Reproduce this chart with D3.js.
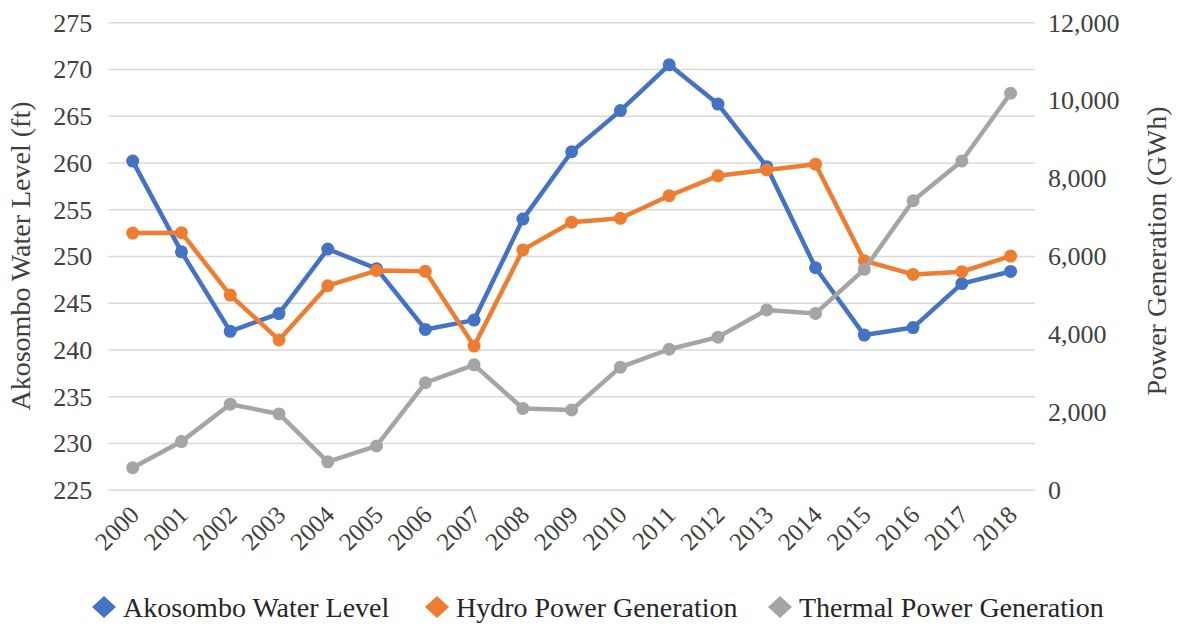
<!DOCTYPE html>
<html><head><meta charset="utf-8">
<script src="https://cdn.jsdelivr.net/npm/d3@7"></script>
<style>
body{margin:0;background:#fff}
svg{display:block}
#c text{font-family:"Liberation Serif" !important}
</style>
</head><body><svg id="c" width="1178" height="630" font-family="Liberation Serif"></svg>
<script>
const years = ["2000","2001","2002","2003","2004","2005","2006","2007","2008","2009","2010","2011","2012","2013","2014","2015","2016","2017","2018"];
const waterLevel = [260.2,250.5,242.0,243.9,250.8,248.7,242.2,243.2,254.0,261.2,265.6,270.5,266.3,259.6,248.8,241.6,242.4,247.1,248.4];
const hydro = [6600,6610,5010,3860,5250,5640,5620,3700,6170,6880,6980,7560,8070,8220,8370,5890,5540,5610,6010];
const thermal = [580,1250,2210,1960,730,1140,2760,3220,2100,2060,3160,3620,3930,4630,4540,5670,7430,8450,10190];
const leftTicks = [225,230,235,240,245,250,255,260,265,270,275];
const rightTicks = [0,2000,4000,6000,8000,10000,12000];
const seriesNames = ["Akosombo Water Level","Hydro Power Generation","Thermal Power Generation"];
const colors = ["#4472C4","#ED7D31","#A5A5A5"];
const FONT = '"Liberation Serif"';

const svg = d3.select("#c");
const L = 108.3, R = 1035, T = 22.7, B = 490.3;
const x = d3.scaleBand().domain(years).range([L, R]);
const yL = d3.scaleLinear().domain([225,275]).range([B, T]);
const yR = d3.scaleLinear().domain([0,12000]).range([B, T]);
const cx = d => x(d) + x.bandwidth()/2;

svg.append("g").selectAll("line").data(leftTicks).join("line")
  .attr("x1", L).attr("x2", R).attr("y1", d=>yL(d)).attr("y2", d=>yL(d))
  .attr("stroke", "#D9D9D9").attr("stroke-width", 1.5);

function styleText(sel, size, fill) {
  sel.attr("font-family", "Liberation Serif").style("font-family", FONT)
     .attr("font-size", size).attr("fill", fill || "#404040");
}

const gL = svg.append("g").attr("transform", `translate(${L-16},0)`)
  .call(d3.axisLeft(yL).tickValues(leftTicks).tickSize(0).tickPadding(0));
gL.attr("font-family", "Liberation Serif");
gL.select(".domain").remove();
styleText(gL.selectAll("text"), 26);

const gR = svg.append("g").attr("transform", `translate(${R+13},0)`)
  .call(d3.axisRight(yR).tickValues(rightTicks).tickSize(0).tickPadding(0).tickFormat(d3.format(",")));
gR.attr("font-family", "Liberation Serif");
gR.select(".domain").remove();
styleText(gR.selectAll("text"), 26);

const gX = svg.append("g").attr("transform", `translate(0,${B})`)
  .call(d3.axisBottom(x).tickSize(0).tickPadding(0));
gX.attr("font-family", "Liberation Serif");
gX.select(".domain").remove();
styleText(gX.selectAll("text"), 25);
gX.selectAll("text").attr("text-anchor", "end").attr("dy", null).attr("y", 0)
  .attr("transform", "translate(8,26) rotate(-45)");

styleText(svg.append("text").attr("transform", `translate(30,256) rotate(-90)`).attr("text-anchor","middle")
  .text("Akosombo Water Level (ft)"), 28);
styleText(svg.append("text").attr("transform", `translate(1166,251) rotate(-90)`).attr("text-anchor","middle")
  .text("Power Generation (GWh)"), 28);

const series = [
  {vals: waterLevel, y: yL},
  {vals: hydro, y: yR},
  {vals: thermal, y: yR}
];
series.forEach((s, i) => {
  const line = d3.line().x((d,j)=>cx(years[j])).y(d=>s.y(d));
  svg.append("path").datum(s.vals).attr("d", line).attr("fill","none")
    .attr("stroke", colors[i]).attr("stroke-width", 4.5).attr("stroke-linejoin","round");
  svg.append("g").selectAll("circle").data(s.vals).join("circle")
    .attr("cx", (d,j)=>cx(years[j])).attr("cy", d=>s.y(d)).attr("r", 6.5).attr("fill", colors[i]);
});

const legX = [104, 437, 780];
const legY = 607;
seriesNames.forEach((n, i) => {
  const g = svg.append("g").attr("transform", `translate(${legX[i]},${legY})`);
  g.append("path").attr("d", "M-12,0L0,-11L12,0L0,11Z").attr("fill", colors[i]);
  styleText(g.append("text").attr("x", 19).attr("y", 0).attr("dy", "0.35em").text(n), 28, "#262626");
});
</script></body></html>
